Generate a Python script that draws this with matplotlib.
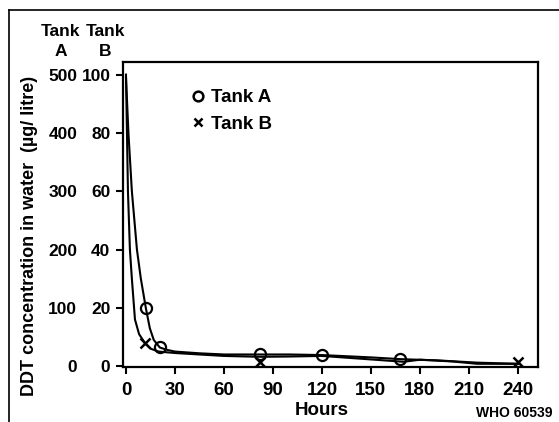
import matplotlib
matplotlib.use('Agg')
import matplotlib.pyplot as plt
from matplotlib.lines import Line2D

plt.rcParams['font.family'] = ['Liberation Sans', 'DejaVu Sans']
plt.rcParams['font.weight'] = 'bold'
plt.rcParams['axes.labelweight'] = 'bold'

# -------------------------
# Data
# -------------------------
# Tank A (left scale, ug/litre)
a_pts_t = [12, 21, 82, 120, 168]
a_pts_v = [99, 32, 20, 19, 12]
a_curve_t = [0, 1.5, 3.6, 6.7, 9.1, 12.2, 14.6, 17, 20.7, 25, 30, 45, 60, 82, 100, 120, 150, 168, 190, 215, 240]
a_curve_v = [495, 400, 300, 200, 150, 99, 65, 45, 32, 28, 25, 22, 20, 20, 20, 19, 15, 12, 10, 6, 4]

# Tank B (right-hand column of the scale, ug/litre)
b_pts_t = [11.6, 82, 240]
b_pts_v = [7.9, 1.3, 1.5]
b_curve_t = [0, 0.6, 1.2, 2.4, 3.6, 5.5, 8, 11.6, 15, 20, 30, 60, 82, 100, 120, 150, 170, 180, 200, 215, 240]
b_curve_v = [100, 80, 60, 40, 30, 16, 11, 7.9, 6, 5, 4.5, 3.5, 3.2, 3.3, 3.5, 2.3, 1.5, 2.2, 1.6, 0.8, 0.8]

x_ticks = [0, 30, 60, 90, 120, 150, 180, 210, 240]
b_ticks = [0, 20, 40, 60, 80, 100]
a_ticks = [0, 100, 200, 300, 400, 500]

# -------------------------
# Figure
# -------------------------
fig = plt.figure(figsize=(5.59, 4.22), dpi=100)
ax = fig.add_axes([0.220, 0.1303, 0.7424, 0.7227])

ax.plot(b_curve_t, b_curve_v, color='black', lw=1.5)
ax.plot(b_pts_t, b_pts_v, 'x', color='black', ms=7, mew=1.8)

ax.set_xlim(-1.84, 252.3)
ax.set_ylim(-0.3, 104.3)
ax.set_xticks(x_ticks)
ax.set_yticks(b_ticks)
ax.tick_params(axis='both', direction='out', length=5, width=1.5, colors='black')
ax.tick_params(axis='x', labelsize=13.5, pad=6)
ax.tick_params(axis='y', labelsize=12.5, pad=4)
for s in ax.spines.values():
    s.set_linewidth(1.6)

# Tank A on a twin scale, labels shown on the left
axa = ax.twinx()
axa.plot(a_curve_t, a_curve_v, color='black', lw=1.5)
axa.plot(a_pts_t, a_pts_v, 'o', mfc='none', mec='black', ms=8, mew=1.6)
axa.set_ylim(-1.5, 521.5)
axa.set_yticks(a_ticks)
axa.yaxis.set_ticks_position('left')
axa.tick_params(axis='y', length=0, labelsize=12.5, pad=33)
for s in axa.spines.values():
    s.set_visible(False)

ax.set_xlabel('Hours', fontsize=13.5, labelpad=0)
ax.xaxis.set_label_coords(0.48, -0.115)

fig.text(30 / 559, 1 - 236 / 422, 'DDT concentration in water  (\u00b5g/ litre)',
         rotation=90, ha='center', va='center', fontsize=13)

# column headers
fig.text(61 / 559, 1 - 32 / 422, 'Tank', ha='center', va='center', fontsize=12.5)
fig.text(105 / 559, 1 - 32 / 422, 'Tank', ha='center', va='center', fontsize=12.5)
fig.text(61 / 559, 1 - 52 / 422, 'A', ha='center', va='center', fontsize=12.5)
fig.text(105 / 559, 1 - 52 / 422, 'B', ha='center', va='center', fontsize=12.5)

# legend
handles = [Line2D([], [], ls='none', marker='o', mfc='none', mec='black', ms=7, mew=1.8),
           Line2D([], [], ls='none', marker='x', color='black', ms=6, mew=1.8)]
ax.legend(handles, ['Tank A', 'Tank B'], loc='upper left', bbox_to_anchor=(0.15, 0.935),
          frameon=False, fontsize=13.5, handlelength=0.6, handletextpad=0.4,
          labelspacing=0.5, borderaxespad=0)

fig.text(553 / 559, 1 - 413 / 422, 'WHO 60539', ha='right', va='center', fontsize=10)

# outer frame (left and top edges)
fig.add_artist(Line2D([9 / 559, 9 / 559], [0, 1 - 10 / 422], color='black', lw=1.2))
fig.add_artist(Line2D([9 / 559, 1], [1 - 10 / 422, 1 - 10 / 422], color='black', lw=1.2))

fig.savefig('out.png', dpi=100)
